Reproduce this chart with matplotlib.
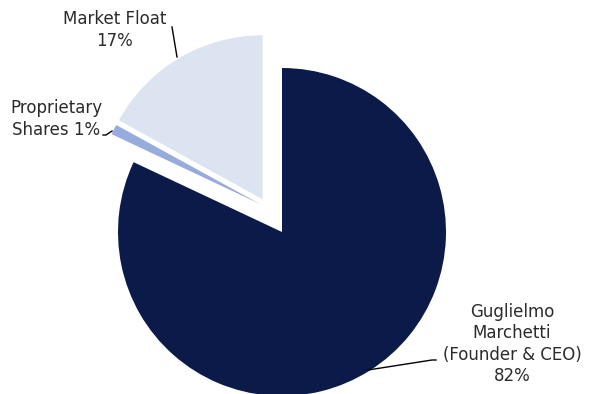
import matplotlib.pyplot as plt

labels = ["Guglielmo\nMarchetti\n(Founder & CEO)\n82%", "Proprietary\nShares 1%", "Market Float\n17%"]
shares = [82, 1, 17]
colors = ["#0b1a48", "#97acdc", "#dce3f1"]
# explode offsets in pixels (pie is drawn in pixel units)
explode = [0, 34, 38]

W, H = 589, 394
fig = plt.figure(figsize=(W / 100, H / 100), dpi=100)
ax = fig.add_axes([0, 0, 1, 1])

cx, cy, r = 282, H - 232, 164
wedges, _ = ax.pie(shares, colors=colors, explode=explode, startangle=90,
                   counterclock=False, radius=r, center=(cx, cy),
                   wedgeprops=dict(linewidth=0))
# the small slice is pulled out a bit more towards the top, like the original
wedges[1].set_center((cx - 22, cy + 28))

ax.set_xlim(0, W)
ax.set_ylim(0, H)
ax.set_aspect("equal")
ax.axis("off")

font = dict(fontsize=12, color="#2b2b2b", ha="center", va="center",
            linespacing=1.22, family="DejaVu Sans")

ax.text(115, H - 30, labels[2], **font)
ax.plot([177, 172], [H - 57, H - 27], color="black", lw=1)

ax.text(56, H - 119, labels[1], **font)
ax.plot([112, 106, 103], [H - 131, H - 135, H - 135], color="black", lw=1)

ax.text(512, H - 344, labels[0], **font)
ax.plot([368, 432, 436], [H - 370, H - 360, H - 360], color="black", lw=1)

fig.savefig("out.png", dpi=100)
